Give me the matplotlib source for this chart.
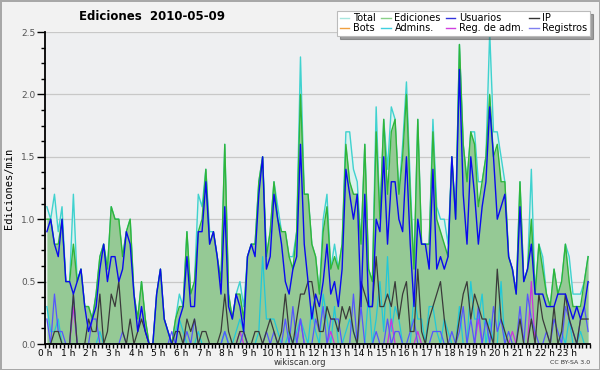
import numpy as np
import matplotlib
matplotlib.use("Agg")
import matplotlib.pyplot as plt
from matplotlib.lines import Line2D
from matplotlib.ticker import MultipleLocator, FixedLocator, FormatStrFormatter

# edits per minute, 10-minute bins, values in tenths
total = np.array([
    11, 10, 12, 9, 11, 5, 5, 12, 5, 6, 3, 3, 2, 4, 7, 8, 6, 11, 10, 10, 7, 9, 10, 4,
    2, 5, 2, 0, 0, 4, 6, 2, 1, 0, 2, 4, 3, 9, 4, 5, 12, 11, 14, 9, 9, 7, 5, 16,
    4, 2, 4, 5, 3, 7, 8, 8, 13, 15, 7, 9, 13, 11, 9, 9, 7, 7, 9, 23, 12, 12, 8, 7,
    4, 10, 12, 6, 8, 6, 8, 17, 17, 14, 13, 8, 16, 6, 5, 19, 10, 18, 14, 19, 18, 12, 16, 21,
    13, 6, 18, 8, 8, 8, 18, 11, 10, 10, 8, 15, 10, 24, 16, 13, 17, 17, 13, 13, 15, 25,
    17, 17, 15, 13, 7, 6, 4, 13, 5, 6, 14, 4, 8, 7, 4, 3, 6, 4, 5, 8, 7, 4, 4, 4, 5, 7,
]) / 10
ediciones = np.array([
    10, 10, 8, 8, 10, 5, 5, 8, 5, 6, 3, 3, 2, 4, 7, 8, 6, 11, 10, 10, 7, 9, 10, 4,
    2, 5, 2, 0, 0, 4, 6, 2, 1, 0, 2, 3, 3, 9, 4, 5, 9, 10, 14, 8, 9, 7, 5, 16,
    4, 2, 4, 4, 2, 7, 8, 8, 13, 15, 7, 9, 13, 10, 9, 9, 7, 6, 9, 20, 12, 12, 8, 7,
    4, 9, 11, 6, 7, 6, 8, 16, 13, 12, 12, 8, 16, 6, 5, 17, 10, 18, 12, 17, 18, 12, 15, 20,
    12, 6, 18, 8, 8, 8, 17, 10, 9, 8, 7, 15, 10, 24, 16, 13, 17, 16, 11, 13, 15, 20,
    15, 16, 13, 13, 7, 6, 4, 13, 5, 6, 10, 4, 8, 6, 4, 3, 6, 4, 5, 8, 5, 3, 3, 3, 5, 7,
]) / 10
usuarios = np.array([
    9, 10, 8, 7, 10, 5, 5, 4, 5, 6, 3, 1, 2, 3, 6, 8, 5, 7, 7, 5, 6, 9, 8, 4,
    1, 3, 1, 0, 0, 4, 6, 2, 1, 0, 0, 2, 3, 7, 3, 3, 9, 9, 13, 8, 9, 7, 4, 11,
    3, 2, 4, 3, 1, 7, 8, 7, 12, 15, 6, 7, 12, 10, 8, 5, 4, 6, 7, 16, 8, 5, 2, 4,
    3, 5, 8, 4, 5, 3, 6, 14, 12, 10, 12, 3, 12, 3, 3, 10, 9, 15, 8, 13, 13, 10, 9, 15,
    8, 3, 10, 8, 8, 6, 14, 6, 7, 6, 7, 15, 10, 22, 12, 8, 15, 12, 8, 11, 13, 19,
    15, 10, 11, 12, 7, 6, 4, 11, 5, 6, 8, 4, 4, 4, 3, 3, 3, 4, 4, 4, 3, 2, 3, 2, 3, 5,
]) / 10
ip = np.array([
    0, 0, 1, 1, 0, 0, 0, 4, 0, 0, 0, 2, 1, 1, 4, 0, 1, 4, 3, 5, 1, 0, 2, 0,
    1, 2, 1, 0, 0, 0, 0, 0, 0, 0, 1, 1, 0, 2, 1, 2, 0, 1, 1, 0, 0, 0, 1, 4,
    1, 0, 0, 1, 1, 0, 0, 1, 1, 0, 1, 2, 1, 0, 1, 4, 1, 0, 2, 4, 4, 5, 5, 3,
    1, 1, 3, 2, 2, 1, 3, 2, 3, 1, 0, 5, 4, 3, 3, 7, 3, 3, 4, 3, 5, 2, 4, 5,
    1, 1, 6, 1, 0, 2, 3, 4, 5, 2, 0, 0, 0, 2, 4, 5, 2, 4, 3, 2, 2, 1,
    0, 6, 2, 1, 0, 0, 0, 2, 0, 0, 2, 0, 4, 2, 1, 0, 3, 0, 1, 4, 2, 1, 0, 2, 2, 2,
]) / 10
bots = np.zeros(144)
admins = np.array([
    3, 1, 1, 2, 0, 0, 0, 0, 0, 0, 0, 0, 0, 0, 1, 0, 0, 0, 0, 0, 0, 0, 0, 0,
    0, 0, 0, 0, 0, 0, 0, 0, 0, 0, 1, 2, 1, 0, 0, 0, 1, 0, 0, 0, 0, 0, 0, 1,
    0, 0, 1, 2, 1, 0, 0, 0, 1, 7, 2, 2, 2, 1, 0, 0, 1, 0, 1, 2, 1, 0, 3, 1,
    0, 4, 2, 0, 3, 0, 0, 1, 2, 1, 0, 0, 0, 4, 0, 2, 5, 1, 7, 1, 3, 2, 0, 0,
    0, 4, 2, 2, 0, 3, 3, 1, 0, 2, 1, 0, 0, 3, 0, 0, 5, 2, 2, 4, 0, 2, 0, 0,
    5, 0, 0, 0, 0, 0, 0, 0, 0, 0, 0, 0, 0, 0, 0, 0, 1, 0, 2, 0, 0, 1, 0, 0,
]) / 10
reg_adm = np.array([
    0, 0, 0, 0, 0, 0, 0, 3, 0, 0, 0, 0, 0, 0, 0, 0, 0, 0, 0, 0, 0, 0, 0, 0,
    0, 0, 0, 0, 0, 0, 0, 0, 0, 0, 0, 0, 0, 0, 0, 0, 0, 0, 0, 0, 0, 0, 0, 0,
    0, 0, 0, 1, 0, 0, 0, 0, 0, 0, 0, 0, 0, 0, 0, 0, 0, 0, 0, 2, 0, 0, 0, 0,
    0, 0, 0, 1, 0, 0, 0, 0, 0, 0, 0, 0, 0, 0, 0, 0, 0, 0, 0, 2, 0, 0, 0, 0,
    0, 0, 1, 0, 0, 0, 0, 0, 0, 0, 0, 0, 0, 0, 0, 0, 0, 0, 2, 0, 0, 0, 0, 0,
    0, 0, 0, 1, 0, 0, 0, 0, 5, 0, 0, 0, 0, 0, 0, 0, 0, 0, 0, 0, 0, 0, 0, 0,
]) / 10
registros = np.array([
    2, 0, 4, 1, 1, 0, 0, 4, 0, 0, 0, 0, 2, 2, 0, 0, 0, 0, 0, 0, 1, 0, 0, 0,
    0, 0, 0, 0, 0, 0, 0, 0, 0, 1, 0, 0, 0, 1, 0, 2, 0, 0, 0, 0, 0, 0, 0, 1,
    0, 0, 0, 0, 1, 0, 0, 0, 0, 0, 1, 0, 1, 0, 0, 2, 0, 3, 0, 2, 0, 0, 0, 2,
    1, 3, 0, 2, 2, 2, 0, 0, 0, 4, 0, 3, 0, 0, 0, 1, 0, 0, 2, 0, 1, 1, 0, 0,
    1, 2, 0, 0, 0, 0, 1, 1, 1, 0, 0, 1, 0, 1, 3, 0, 2, 0, 3, 0, 2, 0, 3, 1,
    2, 0, 1, 0, 0, 3, 0, 4, 2, 1, 0, 0, 1, 0, 2, 1, 0, 3, 2, 1, 0, 2, 3, 1,
]) / 10

hours = (np.arange(len(total)) + 0.5) / 6
hour_labels = [f"{h} h" for h in range(24)]

fig = plt.figure(figsize=(6, 3.7), dpi=100, facecolor="#f2f2f2",
                 edgecolor="#a8a8a8", linewidth=2)
ax = fig.add_axes([45 / 600, 26 / 370, 545 / 600, 312 / 370])
ax.set_facecolor("#eeeff1")

# total behind, ediciones on top of it, then the single lines
ax.plot(hours, bots, color="#f0a040", lw=0.9, zorder=1.5)
ax.fill_between(hours, 0, total, color="#dcf1ee", lw=0, zorder=2)
ax.plot(hours, total, color="#3fd2cf", lw=1.0, zorder=2.1)
ax.fill_between(hours, 0, ediciones, color="#95c995", lw=0, zorder=2.2)
ax.plot(hours, ediciones, color="#2fb53a", lw=1.0, zorder=2.3)
ax.plot(hours, admins, color="#22c8d8", lw=0.9, zorder=3)
ax.plot(hours, reg_adm, color="#cc33dd", lw=0.9, zorder=3.1)
ax.plot(hours, registros, color="#5555ff", lw=0.9, zorder=3.2)
ax.plot(hours, ip, color="#3a3a3a", lw=0.9, zorder=3.3)
ax.plot(hours, usuarios, color="#0a0aee", lw=1.0, zorder=3.4)

ax.set_xlim(0, 24)
ax.set_ylim(0, 2.5)
ax.xaxis.set_major_locator(FixedLocator(range(24)))
ax.set_xticklabels(hour_labels)
ax.xaxis.set_minor_locator(MultipleLocator(1 / 6))
ax.yaxis.set_major_locator(MultipleLocator(0.5))
ax.yaxis.set_major_formatter(FormatStrFormatter("%.1f"))
ax.yaxis.set_minor_locator(MultipleLocator(0.125))
ax.tick_params(axis="x", which="both", length=3, width=1, labelsize=6.5, pad=0.5)
ax.tick_params(axis="y", which="major", length=6, width=1, labelsize=6.5,
               labelcolor="#555555", pad=1)
ax.tick_params(axis="y", which="minor", length=3, width=1)
ax.grid(axis="y", which="major", color="#c8c8c8", lw=0.9, zorder=1)
ax.set_axisbelow(True)
for side in ("top", "right"):
    ax.spines[side].set_visible(False)
for side in ("left", "bottom"):
    ax.spines[side].set_linewidth(1.3)
    ax.spines[side].set_zorder(5)

ax.set_ylabel("Ediciones/min", family="DejaVu Sans Mono", fontsize=7.5, labelpad=5)

fig.text(0.253, 0.956, "Ediciones  2010-05-09", ha="center", va="center",
         fontsize=8.5, fontweight="bold")
fig.text(0.5, 0.021, "wikiscan.org", ha="center", va="center", fontsize=6,
         color="#333333")
fig.text(0.983, 0.021, "CC BY-SA 3.0", ha="right", va="center", fontsize=4.5,
         color="#333333")

names = ["Total", "Bots", "Ediciones", "Admins.", "Usuarios", "Reg. de adm.",
         "IP", "Registros"]
colors = ["#a8e6df", "#f0a040", "#88d088", "#40d0e0", "#3333dd", "#d040e0",
          "#333333", "#8080f0"]
handles = [Line2D([], [], color=c, lw=1) for c in colors]
leg = fig.legend(handles, names, ncol=4, loc="upper right",
                 bbox_to_anchor=(590 / 600, 1 - 11 / 370), fontsize=7,
                 frameon=True, fancybox=False, shadow=True, handlelength=1.0,
                 handletextpad=0.4, columnspacing=0.5, labelspacing=0.0,
                 borderpad=0.25, borderaxespad=0)
leg.get_frame().set_edgecolor("#bbbbbb")
leg.get_frame().set_linewidth(0.8)
leg.set_zorder(10)

fig.savefig("out.png", dpi=100, facecolor=fig.get_facecolor(),
            edgecolor=fig.get_edgecolor())
